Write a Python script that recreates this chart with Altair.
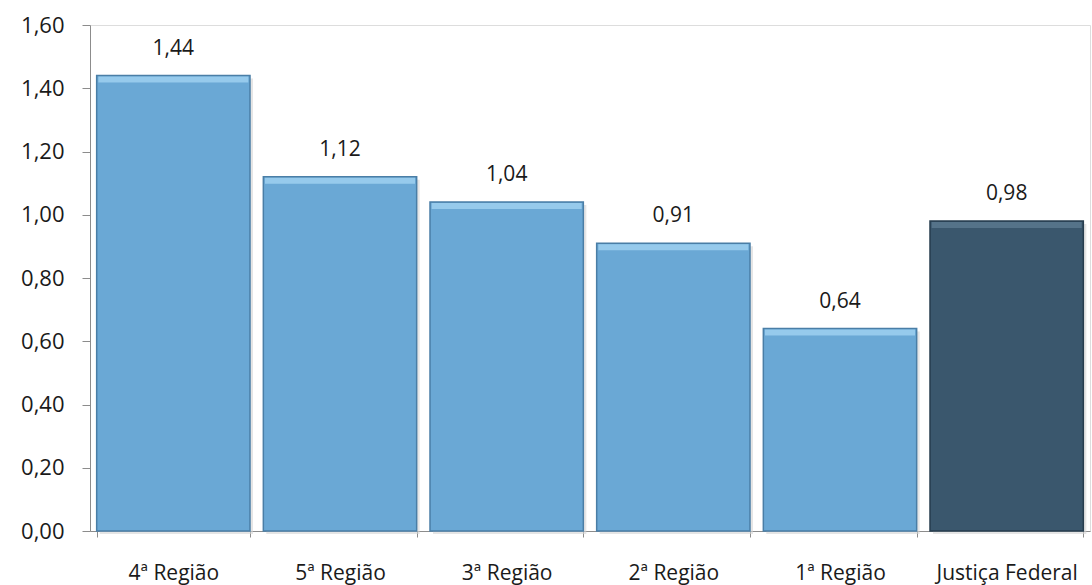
import altair as alt
import pandas as pd

categories = ["4ª Região", "5ª Região", "3ª Região", "2ª Região", "1ª Região", "Justiça Federal"]
values = [1.44, 1.12, 1.04, 0.91, 0.64, 0.98]
fills = ["#6aa8d5", "#6aa8d5", "#6aa8d5", "#6aa8d5", "#6aa8d5", "#3a576d"]
highlights = ["#a9d9f5", "#a9d9f5", "#a9d9f5", "#a9d9f5", "#a9d9f5", "#617f95"]
edges = ["#4a7ea6", "#4a7ea6", "#4a7ea6", "#4a7ea6", "#4a7ea6", "#263d4e"]

df = pd.DataFrame({
    "cat": categories,
    "val": values,
    "fill": fills,
    "hi": highlights,
    "edge": edges,
})

FONT = "Open Sans"
INK = "#1a1a1a"
AXIS_GREY = "#8c8c8c"

x = alt.X("cat:N", sort=categories, title=None,
          scale=alt.Scale(paddingInner=0.08, paddingOuter=0.04),
          axis=alt.Axis(labelAngle=0, labelFontSize=21, labelFont=FONT,
                        labelColor=INK, labelPadding=25,
                        tickBand="extent", tickSize=6, tickColor=AXIS_GREY,
                        domainColor=AXIS_GREY, ticks=True))
y = alt.Y("val:Q", title=None,
          scale=alt.Scale(domain=[0, 1.6], nice=False),
          axis=alt.Axis(values=[0, 0.2, 0.4, 0.6, 0.8, 1.0, 1.2, 1.4, 1.6],
                        labelExpr="replace(format(datum.value, '.2f'), '.', ',')",
                        labelFontSize=22, labelFont=FONT, labelColor=INK,
                        labelPadding=18, tickSize=8, tickColor=AXIS_GREY,
                        domainColor=AXIS_GREY, grid=False))

base = alt.Chart(df)

# soft drop shadow behind each bar
shadow = base.mark_bar(color="#d4d4d4", opacity=0.6, xOffset=3, yOffset=3).encode(
    x=x, y=y)

bars = base.mark_bar(strokeWidth=1.5).encode(
    x=x, y=y,
    fill=alt.Fill("fill:N", scale=None),
    stroke=alt.Stroke("edge:N", scale=None),
)

# lighter bevel along the top edge
bevel = base.mark_tick(thickness=6, size=150, yOffset=4).encode(
    x=x, y=y,
    color=alt.Color("hi:N", scale=None),
)

labels = base.transform_calculate(
    txt="replace(format(datum.val, '.2f'), '.', ',')"
).mark_text(dy=-27, fontSize=21, font=FONT, color=INK).encode(
    x=x, y=y, text="txt:N")

chart = alt.layer(shadow, bars, bevel, labels).properties(
    width=1000, height=506,
    autosize=alt.AutoSizeParams(type="none"),
    padding={"left": 90, "top": 25, "right": 2, "bottom": 54},
).configure_view(stroke=None).configure(background="white")

chart.save("out.html", embed_options={"renderer": "svg", "actions": False})
